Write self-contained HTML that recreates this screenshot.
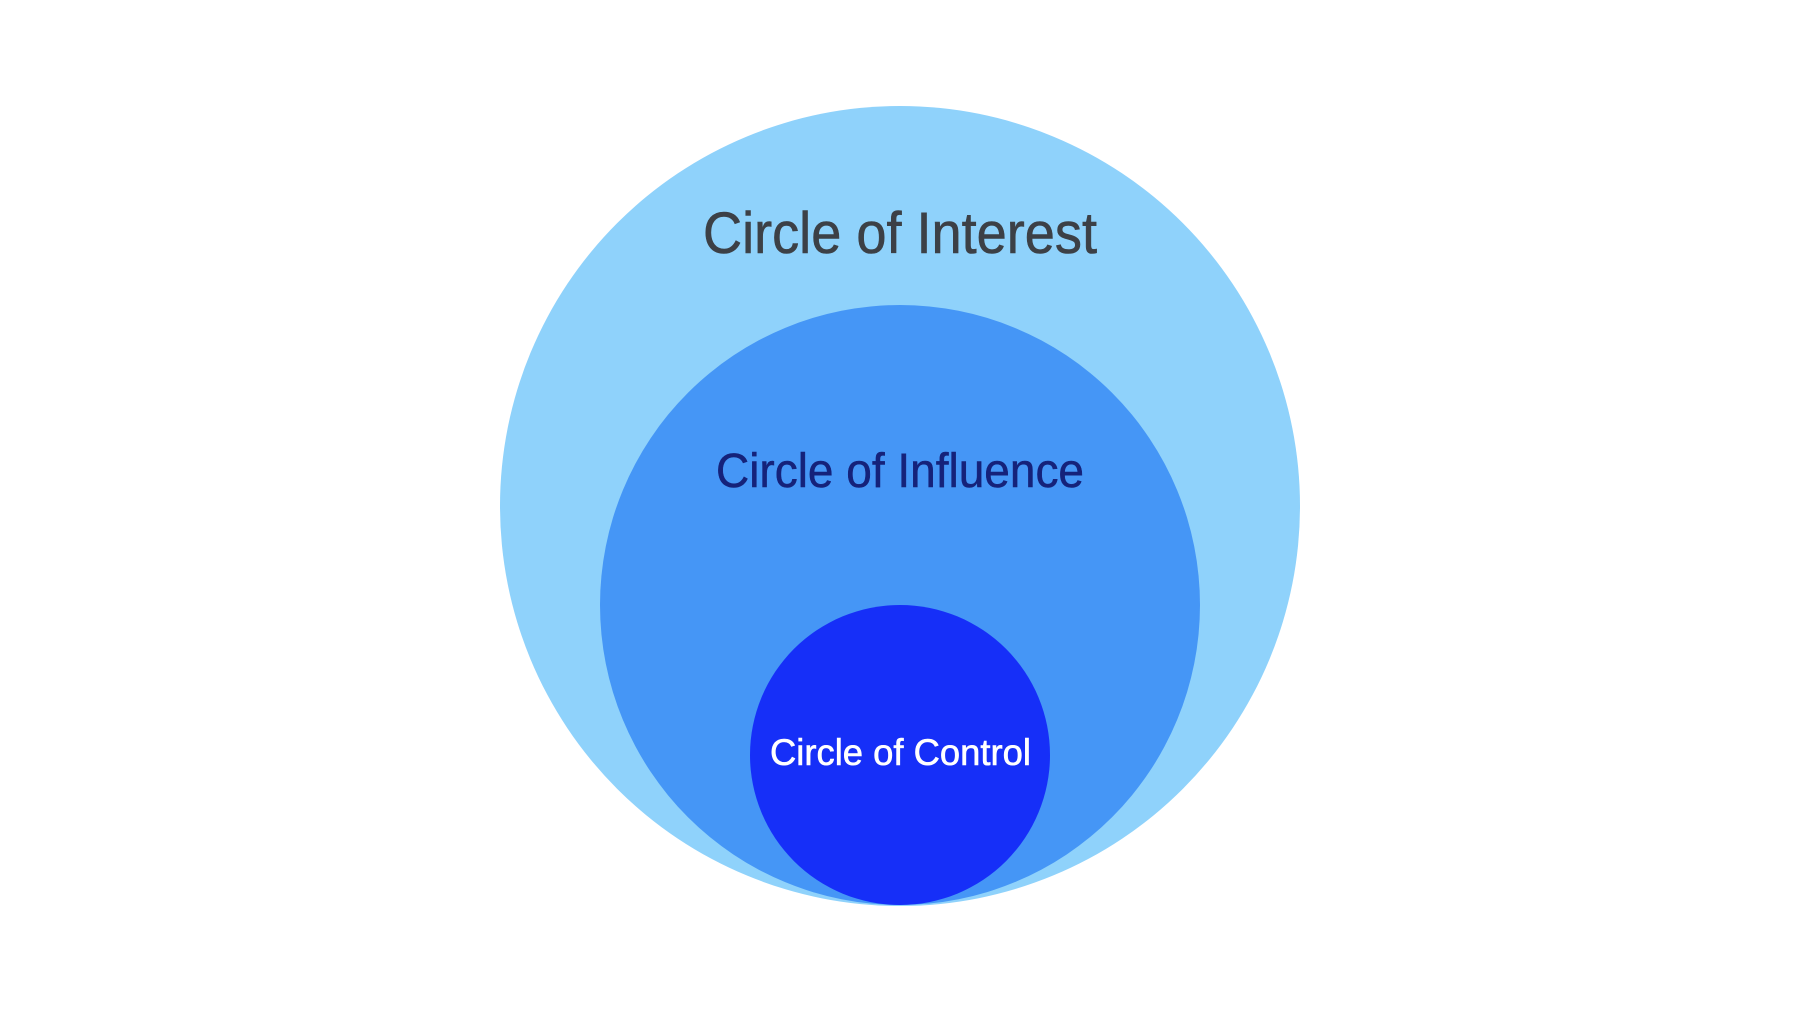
<!DOCTYPE html>
<html><head><meta charset="utf-8"><style>html,body{margin:0;padding:0;background:#fff}svg{display:block}</style></head>
<body>
<svg width="1800" height="1012" viewBox="0 0 1800 1012" xmlns="http://www.w3.org/2000/svg">
<rect width="1800" height="1012" fill="#fff"/>
<circle cx="900" cy="506" r="400" fill="#8fd2fb"/>
<circle cx="900" cy="605" r="300" fill="#4596f6"/>
<circle cx="900" cy="755" r="150" fill="#162ff8"/>
<g font-family="Liberation Sans, Arial, sans-serif">
<text x="703" y="253" font-size="58" fill="#3c4046" stroke="#3c4046" stroke-width="0.6" textLength="394" lengthAdjust="spacingAndGlyphs">Circle of Interest</text>
<text x="716" y="487" font-size="48" fill="#15227a" stroke="#15227a" stroke-width="0.5" textLength="368" lengthAdjust="spacingAndGlyphs">Circle of Influence</text>
<text x="770" y="765" font-size="37" fill="#ffffff" stroke="#ffffff" stroke-width="0.6" textLength="261" lengthAdjust="spacingAndGlyphs">Circle of Control</text>
</g>
</svg>
</body></html>
